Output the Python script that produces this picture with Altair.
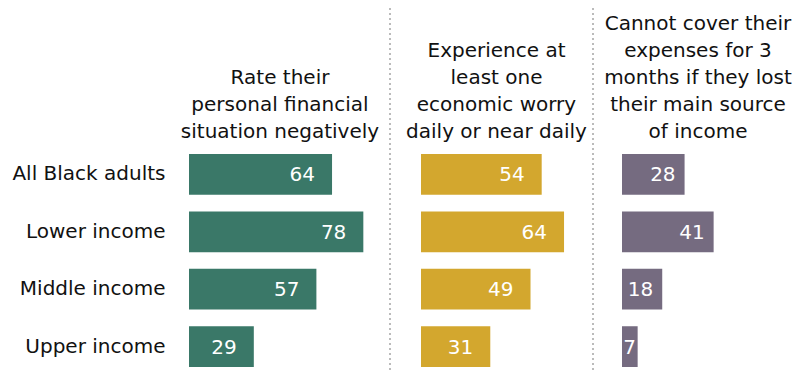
import altair as alt
import pandas as pd

groups = ["All Black adults", "Lower income", "Middle income", "Upper income"]
rate_negative = [64, 78, 57, 29]
economic_worry = [54, 64, 49, 31]
cannot_cover = [28, 41, 18, 7]

titles = [
    ["Rate their", "personal financial", "situation negatively"],
    ["Experience at", "least one", "economic worry", "daily or near daily"],
    ["Cannot cover their", "expenses for 3", "months if they lost", "their main source", "of income"],
]
colors = ["#3A7868", "#D3A72E", "#756B80"]

FONT = "DejaVu Sans"
PX_PER_UNIT = 2.235
H = 213
LINE_H = 27.1


def panel(values, title, color, width, first, label_dx, min_label_pos=0, sep_x=-30):
    df = pd.DataFrame({"group": groups, "value": values})
    dom = width / PX_PER_UNIT
    yenc = alt.Y(
        "group:N",
        sort=groups,
        title=None,
        scale=alt.Scale(paddingInner=0.29, paddingOuter=0),
        axis=alt.Axis(
            labelFontSize=20, labelFont=FONT, labelColor="#111111", ticks=False,
            domain=False, labelPadding=24,
        ) if first else None,
    )
    xenc = alt.X("value:Q", scale=alt.Scale(domain=[0, dom]), axis=None)
    base = alt.Chart(df)
    bars = base.mark_bar(color=color).encode(x=xenc, y=yenc)
    labels = base.transform_calculate(
        pos=f"max(datum.value, {min_label_pos})"
    ).mark_text(
        align="right", baseline="middle", dx=label_dx, dy=1, color="white",
        fontSize=20, font=FONT,
    ).encode(
        x=alt.X("pos:Q", scale=alt.Scale(domain=[0, dom]), axis=None),
        y=alt.Y("group:N", sort=groups),
        text=alt.Text("value:Q"),
    )
    head = alt.Chart(pd.DataFrame({"k": [0]})).mark_text(
        text=title, align="center", baseline="alphabetic", fontSize=20,
        font=FONT, lineHeight=LINE_H, color="#111111",
    ).encode(
        x=alt.value(width / 2),
        y=alt.value(-16 - (len(title) - 1) * LINE_H),
    )
    layers = [bars, labels, head]
    if not first:
        sep = alt.Chart(pd.DataFrame({"k": [0]})).mark_rule(
            color="#BBBBBB", strokeWidth=2, strokeDash=[2, 3]
        ).encode(x=alt.value(sep_x), y=alt.value(-146), y2=alt.value(225))
        layers = [sep] + layers
    return alt.layer(*layers).properties(width=width, height=H)


chart = alt.hconcat(
    panel(rate_negative, titles[0], colors[0], 182, True, -17),
    panel(economic_worry, titles[1], colors[1], 151, False, -17, sep_x=-31),
    panel(cannot_cover, titles[2], colors[2], 152, False, -9, 10.3, sep_x=-29),
    spacing=50,
    bounds="flush",
).properties(
    padding={"left": 11, "top": 7, "right": 5, "bottom": 5}
).configure_view(stroke=None)

chart.save("out.html", embed_options={"renderer": "svg", "actions": False})
